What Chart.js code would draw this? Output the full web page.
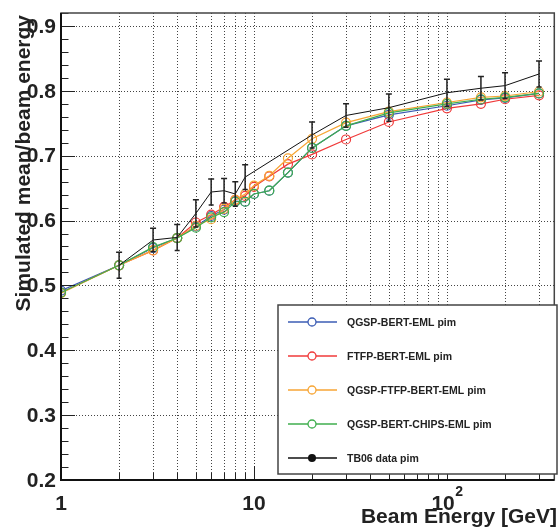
<!DOCTYPE html>
<html>
<head>
<meta charset="utf-8">
<script src="https://cdn.jsdelivr.net/npm/chart.js@4"></script>
<style>
	html, body { margin: 0; padding: 0; background: #fff; }
	#wrap { width: 560px; height: 529px; }
</style>
</head>
<body>
<div id="wrap"><canvas id="chart" width="560" height="529"></canvas></div>
<script>
const energies = [1, 2, 3, 4, 5, 6, 7, 8, 9, 10, 12, 15, 20, 30, 50, 100, 150, 200, 300];

const qgspBert = [0.492, 0.531, 0.558, 0.573, 0.591, 0.607, 0.617, 0.630, 0.629, 0.641, 0.646, 0.674, 0.712, 0.746, 0.763, 0.777, 0.786, 0.789, 0.796];
const ftfpBert = [0.489, 0.531, 0.554, 0.573, 0.597, 0.609, 0.621, 0.632, 0.638, 0.652, 0.668, 0.687, 0.702, 0.725, 0.752, 0.773, 0.780, 0.787, 0.793];
const qgspFtfpBert = [0.488, 0.531, 0.554, 0.573, 0.592, 0.602, 0.618, 0.632, 0.641, 0.654, 0.669, 0.696, 0.726, 0.751, 0.768, 0.782, 0.790, 0.792, 0.799];
const qgspBertChips = [0.489, 0.531, 0.559, 0.573, 0.589, 0.605, 0.613, 0.629, 0.629, 0.641, 0.646, 0.674, 0.712, 0.746, 0.766, 0.780, 0.787, 0.790, 0.796];

const dataEnergies = [2, 3, 4, 5, 6, 7, 8, 9, 20, 30, 50, 100, 150, 200, 300];
const dataValues = [0.531, 0.570, 0.574, 0.611, 0.644, 0.646, 0.641, 0.667, 0.732, 0.762, 0.774, 0.797, 0.804, 0.808, 0.826];
const dataErrors = [0.020, 0.018, 0.020, 0.021, 0.020, 0.019, 0.019, 0.019, 0.020, 0.018, 0.021, 0.021, 0.018, 0.020, 0.020];

const yTicks = [0.2, 0.3, 0.4, 0.5, 0.6, 0.7, 0.8, 0.9];
const xGrid = [2, 3, 4, 5, 6, 7, 8, 9, 10, 20, 30, 40, 50, 60, 70, 80, 90, 100, 200, 300];
const xLabels = [[1, "1"], [10, "10"], [100, "10", "2"]];

const seriesNames = ["QGSP-BERT-EML pim", "FTFP-BERT-EML pim", "QGSP-FTFP-BERT-EML pim", "QGSP-BERT-CHIPS-EML pim", "TB06 data pim"];
const seriesColors = ["#3b5cb4", "#f03a3a", "#f7a534", "#3fae4e", "#111111"];

const FONT = '"Liberation Sans", Arial, Helvetica, sans-serif';

function points(xs, ys){
	return xs.map((x, i) => ({x: x, y: ys[i]}));
}

function simSet(i, values, order){
	return {
		label: seriesNames[i],
		data: points(energies, values),
		borderColor: seriesColors[i],
		borderWidth: 1.2,
		pointRadius: 4.5,
		pointBorderWidth: 1.2,
		pointBackgroundColor: "rgba(0,0,0,0)",
		pointBorderColor: seriesColors[i],
		tension: 0,
		order: order,
	};
}

const rootStyle = {
	id: "rootStyle",
	beforeDraw(chart){
		const ctx = chart.ctx;
		ctx.save();
		ctx.fillStyle = "#fff";
		ctx.fillRect(0, 0, chart.width, chart.height);
		ctx.restore();
	},
	beforeDatasetsDraw(chart){
		const ctx = chart.ctx;
		const a = chart.chartArea;
		const xs = chart.scales.x;
		const ys = chart.scales.y;

		ctx.save();
		ctx.strokeStyle = "#444";
		ctx.lineWidth = 1;
		ctx.setLineDash([1, 2]);

		xGrid.forEach((v) => {
			const px = Math.round(xs.getPixelForValue(v)) + 0.5;
			ctx.beginPath();
			ctx.moveTo(px, a.top);
			ctx.lineTo(px, a.bottom);
			ctx.stroke();
		});

		yTicks.forEach((v) => {
			const py = Math.round(ys.getPixelForValue(v)) + 0.5;
			ctx.beginPath();
			ctx.moveTo(a.left, py);
			ctx.lineTo(a.right, py);
			ctx.stroke();
		});
		ctx.restore();
	},
	afterDatasetsDraw(chart){
		const ctx = chart.ctx;
		const a = chart.chartArea;
		const xs = chart.scales.x;
		const ys = chart.scales.y;

		// error bars of the test beam data
		ctx.save();
		ctx.strokeStyle = "#222";
		ctx.lineWidth = 1.5;
		dataEnergies.forEach((e, i) => {
			const px = xs.getPixelForValue(e);
			const top = ys.getPixelForValue(dataValues[i] + dataErrors[i]);
			const bot = ys.getPixelForValue(dataValues[i] - dataErrors[i]);
			ctx.beginPath();
			ctx.moveTo(px, top);
			ctx.lineTo(px, bot);
			ctx.moveTo(px - 3, top);
			ctx.lineTo(px + 3, top);
			ctx.moveTo(px - 2.5, bot);
			ctx.lineTo(px + 2.5, bot);
			ctx.stroke();
		});
		ctx.restore();

		// ticks on the left and bottom axes only
		ctx.save();
		ctx.strokeStyle = "#222";
		ctx.lineWidth = 1;
		for(let v = 0.2; v <= 0.92 + 1e-9; v += 0.02){
			const py = Math.round(ys.getPixelForValue(v)) + 0.5;
			const major = Math.abs(v * 10 - Math.round(v * 10)) < 1e-6;
			const len = major ? 14 : 7.5;
			ctx.beginPath();
			ctx.moveTo(a.left, py);
			ctx.lineTo(a.left + len, py);
			ctx.stroke();
		}
		[1].concat(xGrid).forEach((v) => {
			const px = Math.round(xs.getPixelForValue(v)) + 0.5;
			const major = v == 1 || v == 10 || v == 100;
			const len = major ? 14 : 7;
			ctx.beginPath();
			ctx.moveTo(px, a.bottom);
			ctx.lineTo(px, a.bottom - len);
			ctx.stroke();
		});
		ctx.restore();

		// frame
		ctx.save();
		ctx.strokeStyle = "#444";
		ctx.lineWidth = 1.5;
		ctx.strokeRect(a.left, a.top, a.right - a.left, a.bottom - a.top);
		ctx.strokeStyle = "#111";
		ctx.lineWidth = 2;
		ctx.beginPath();
		ctx.moveTo(a.left, a.top);
		ctx.lineTo(a.left, a.bottom);
		ctx.lineTo(a.right, a.bottom);
		ctx.stroke();
		ctx.restore();

		// tick labels
		ctx.save();
		ctx.fillStyle = "#222";
		ctx.font = "bold 21px " + FONT;
		ctx.textAlign = "right";
		ctx.textBaseline = "middle";
		yTicks.forEach((v) => {
			ctx.fillText(v.toFixed(1), 56, ys.getPixelForValue(v) + 1);
		});

		ctx.textBaseline = "alphabetic";
		xLabels.forEach((l) => {
			const px = xs.getPixelForValue(l[0]);
			if(l.length == 3){
				ctx.font = "bold 21px " + FONT;
				const w1 = ctx.measureText(l[1]).width;
				ctx.font = "bold 14px " + FONT;
				const w2 = ctx.measureText(l[2]).width;
				const left = px - (w1 + w2) / 2;
				ctx.textAlign = "left";
				ctx.font = "bold 21px " + FONT;
				ctx.fillText(l[1], left, 510);
				ctx.font = "bold 14px " + FONT;
				ctx.fillText(l[2], left + w1 + 0.5, 496);
			} else {
				ctx.textAlign = "center";
				ctx.font = "bold 21px " + FONT;
				ctx.fillText(l[1], px, 510);
			}
		});

		// axis titles
		ctx.font = "bold 21px " + FONT;
		ctx.textAlign = "right";
		ctx.fillText("Beam Energy [GeV]", 557, 523);

		ctx.translate(30, 15);
		ctx.rotate(-Math.PI / 2);
		ctx.fillText("Simulated mean/beam energy", 0, 0);
		ctx.restore();

		// legend
		ctx.save();
		ctx.fillStyle = "#fff";
		ctx.fillRect(278, 305, 279, 169);
		ctx.strokeStyle = "#444";
		ctx.lineWidth = 1.5;
		ctx.strokeRect(278, 305, 279, 169);

		const rows = [322, 356, 390, 424, 458];
		ctx.font = "bold 10.5px " + FONT;
		ctx.textAlign = "left";
		ctx.textBaseline = "middle";
		seriesNames.forEach((name, i) => {
			const y = rows[i];
			ctx.strokeStyle = seriesColors[i];
			ctx.lineWidth = 1.3;
			ctx.beginPath();
			ctx.moveTo(288, y);
			ctx.lineTo(337, y);
			ctx.stroke();

			ctx.beginPath();
			ctx.arc(312, y, 4, 0, Math.PI * 2);
			if(i == 4){
				ctx.fillStyle = "#111";
				ctx.fill();
			} else {
				ctx.fillStyle = "#fff";
				ctx.fill();
				ctx.stroke();
			}

			ctx.fillStyle = "#222";
			ctx.fillText(name, 347, y + 1);
		});
		ctx.restore();
	}
};

const chart = new Chart(document.querySelector("#chart").getContext("2d"), {
	type: "line",
	data: {
		datasets: [
			simSet(0, qgspBert, 4),
			simSet(1, ftfpBert, 3),
			simSet(2, qgspFtfpBert, 2),
			simSet(3, qgspBertChips, 1),
			{
				label: seriesNames[4],
				data: points(dataEnergies, dataValues),
				borderColor: seriesColors[4],
				borderWidth: 1,
				pointRadius: 0,
				tension: 0,
				order: 0,
			},
		],
	},
	options: {
		responsive: false,
		animation: false,
		layout: {
			padding: {left: 61, top: 13, right: 2, bottom: 49},
		},
		plugins: {
			legend: {display: false},
			tooltip: {enabled: false},
		},
		scales: {
			x: {
				type: "logarithmic",
				min: 1,
				max: 360,
				display: false,
			},
			y: {
				type: "linear",
				min: 0.2,
				max: 0.92,
				display: false,
			},
		},
	},
	plugins: [rootStyle],
});
</script>
</body>
</html>
